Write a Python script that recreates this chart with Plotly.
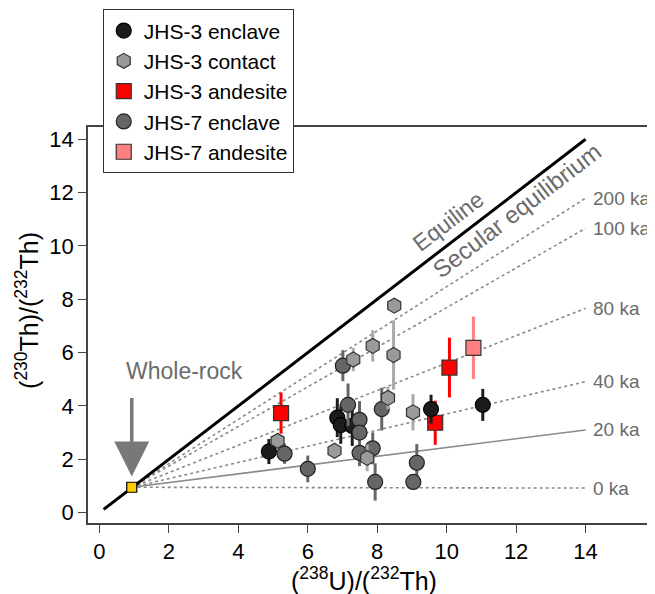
import plotly.graph_objects as go

# ---------------- data ----------------
jhs3_enclave_x = [4.88, 6.85, 6.95, 7.28, 9.55, 11.04]
jhs3_enclave_y = [2.29, 3.56, 3.28, 3.25, 3.88, 4.04]
jhs3_enclave_err = [0.47, 0.73, 0.70, 0.75, 0.54, 0.60]

jhs3_contact_x = [5.13, 6.77, 7.31, 7.71, 7.87, 8.31, 8.47, 8.49, 9.03]
jhs3_contact_y = [2.69, 2.32, 5.74, 2.05, 6.25, 4.30, 5.91, 7.76, 3.76]
jhs3_contact_err = [0.30, 0.25, 0.44, 0.50, 0.59, 0.42, 1.30, 0.0, 0.68]

jhs3_andesite_x = [5.23, 9.67, 10.08]
jhs3_andesite_y = [3.73, 3.37, 5.44]
jhs3_andesite_err = [0.77, 0.83, 1.12]

jhs7_enclave_x = [5.33, 6.00, 7.01, 7.16, 7.49, 7.49, 7.49, 7.87, 7.94, 8.13, 9.04, 9.14]
jhs7_enclave_y = [2.21, 1.64, 5.51, 4.04, 3.48, 3.00, 2.24, 2.41, 1.15, 3.88, 1.15, 1.87]
jhs7_enclave_err = [0.38, 0.50, 0.58, 0.80, 0.70, 0.60, 0.50, 0.60, 0.70, 0.80, 0.30, 0.70]

jhs7_andesite_x = [10.77]
jhs7_andesite_y = [6.18]
jhs7_andesite_err = [1.17]

whole_rock_x = [0.93]
whole_rock_y = [0.95]

equiline_x = [0.12, 14.0]
equiline_y = [0.12, 14.0]

isochron_labels = ["200 ka", "100 ka", "80 ka", "40 ka", "20 ka", "0 ka"]
isochron_end_x = 14.0
isochron_end_y = [11.79, 10.66, 7.66, 4.91, 3.10, 0.92]

x_ticks = [0, 2, 4, 6, 8, 10, 12, 14]
y_ticks = [0, 2, 4, 6, 8, 10, 12, 14]

FONT = "Liberation Sans, Arial, Helvetica, sans-serif"
GRAY_TXT = "#6b6b6b"

fig = go.Figure()

# isochron reference lines
for lab, ye in zip(isochron_labels, isochron_end_y):
    fig.add_trace(go.Scatter(
        x=[whole_rock_x[0], isochron_end_x], y=[whole_rock_y[0], ye],
        mode="lines", showlegend=False, hoverinfo="skip",
        line=dict(color="#8a8a8a", width=1.6,
                  dash="solid" if lab == "20 ka" else "dot")))

# equiline
fig.add_trace(go.Scatter(x=equiline_x, y=equiline_y, mode="lines",
                         line=dict(color="black", width=3),
                         showlegend=False, hoverinfo="skip"))

def series(name, xs, ys, err, symbol, fill, outline, barcol, size, rank):
    return go.Scatter(
        x=xs, y=ys, name=name, mode="markers", legendrank=rank,
        error_y=dict(type="data", array=err, visible=True,
                     color=barcol, thickness=3, width=0),
        marker=dict(symbol=symbol, size=size, color=fill,
                    line=dict(color=outline, width=1.2)))

# drawing order (bottom to top); legend order set by legendrank
fig.add_trace(series("JHS-7 andesite", jhs7_andesite_x, jhs7_andesite_y, jhs7_andesite_err,
                     "square", "#ff8080", "#333333", "#ff8080", 15, 5))
fig.add_trace(series("JHS-3 andesite", jhs3_andesite_x, jhs3_andesite_y, jhs3_andesite_err,
                     "square", "#ff0000", "#333333", "#ff0000", 15, 3))
fig.add_trace(series("JHS-3 enclave", jhs3_enclave_x, jhs3_enclave_y, jhs3_enclave_err,
                     "circle", "#1c1c1c", "#000000", "#1c1c1c", 15, 1))
fig.add_trace(series("JHS-7 enclave", jhs7_enclave_x, jhs7_enclave_y, jhs7_enclave_err,
                     "circle", "#666666", "#222222", "#666666", 15, 4))
fig.add_trace(series("JHS-3 contact", jhs3_contact_x, jhs3_contact_y, jhs3_contact_err,
                     "hexagon", "#9a9a9a", "#333333", "#aaaaaa", 15, 2))

# whole-rock point
fig.add_trace(go.Scatter(x=whole_rock_x, y=whole_rock_y, mode="markers",
                         marker=dict(symbol="square", size=10, color="#ffcc00",
                                     line=dict(color="black", width=1.2)),
                         showlegend=False, hoverinfo="skip"))

annotations = []
for lab, ye in zip(isochron_labels, isochron_end_y):
    annotations.append(dict(x=isochron_end_x, y=ye, xref="x", yref="y", text=lab,
                            showarrow=False, xanchor="left", yanchor="middle", xshift=5,
                            font=dict(family=FONT, size=19, color=GRAY_TXT)))

annotations += [
    dict(x=10.05, y=10.95, xref="x", yref="y", text="Equiline", showarrow=False,
         textangle=-37.4, font=dict(family=FONT, size=23, color=GRAY_TXT)),
    dict(x=12.02, y=11.32, xref="x", yref="y", text="Secular equilibrium", showarrow=False,
         textangle=-37.4, font=dict(family=FONT, size=24, color=GRAY_TXT)),
    dict(x=2.44, y=5.31, xref="x", yref="y", text="Whole-rock", showarrow=False,
         font=dict(family=FONT, size=23, color=GRAY_TXT)),
    dict(x=whole_rock_x[0], y=1.35, xref="x", yref="y", text="", showarrow=True,
         ax=0, ay=-80, arrowhead=2, arrowsize=2.0, arrowwidth=3.5, arrowcolor="#787878"),
    dict(x=0.487, y=-0.142, xref="paper", yref="paper", xanchor="center", yanchor="middle",
         text="(<sup>238</sup>U)/(<sup>232</sup>Th)", showarrow=False,
         font=dict(family=FONT, size=25, color="black")),
    dict(x=-0.1076, y=0.538, xref="paper", yref="paper", xanchor="center", yanchor="middle",
         text="(<sup>230</sup>Th)/(<sup>232</sup>Th)", showarrow=False, textangle=-90,
         font=dict(family=FONT, size=25, color="black")),
]

fig.update_layout(
    width=647, height=586,
    margin=dict(l=80, r=0, t=119, b=71),
    paper_bgcolor="white", plot_bgcolor="white",
    font=dict(family=FONT, size=21, color="black"),
    annotations=annotations,
    legend=dict(x=0.026, y=1.297, xanchor="left", yanchor="top",
                bgcolor="white", bordercolor="#333333", borderwidth=1,
                font=dict(family=FONT, size=21, color="black"),
                tracegroupgap=0),
    xaxis=dict(range=[-0.33, 16.0], tickvals=x_ticks, ticks="outside", ticklen=8,
               tickwidth=1.2, tickcolor="#444", showgrid=False, zeroline=False,
               showline=True, linecolor="#444", linewidth=1.5, mirror=True,
               tickfont=dict(family=FONT, size=22, color="black")),
    yaxis=dict(range=[-0.39, 14.46], tickvals=y_ticks, ticks="outside", ticklen=8,
               tickwidth=1.2, tickcolor="#444", showgrid=False, zeroline=False,
               showline=True, linecolor="#444", linewidth=1.5,
               tickfont=dict(family=FONT, size=22, color="black")),
)

fig.write_html("out.html")
